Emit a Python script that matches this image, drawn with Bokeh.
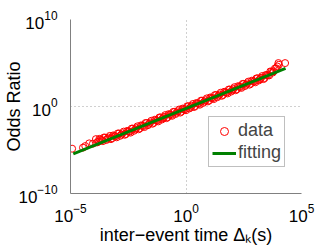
from bokeh.plotting import figure
from bokeh.models import FixedTicker, Legend, LegendItem
from bokeh.embed import file_html
from bokeh.resources import INLINE

# exponents (log10)
log_dt = [-4.93, -4.46, -4.36, -4.19, -4.03,
          -3.9, -3.8, -3.7, -3.6, -3.5, -3.4, -3.3, -3.2, -3.1, -3.0,
          -2.9, -2.8, -2.7, -2.6, -2.5, -2.4, -2.3, -2.2, -2.1, -2.0,
          -1.9, -1.8, -1.7, -1.6, -1.5, -1.4, -1.3, -1.2, -1.1, -1.0,
          -0.9, -0.8, -0.7, -0.6, -0.5, -0.4, -0.3, -0.2, -0.1, 0.0,
          0.1, 0.2, 0.3, 0.4, 0.5, 0.6, 0.7, 0.8, 0.9, 1.0,
          1.1, 1.2, 1.3, 1.4, 1.5, 1.6, 1.7, 1.8, 1.9, 2.0,
          2.1, 2.2, 2.3, 2.4, 2.5, 2.6, 2.7, 2.8, 2.9, 3.0,
          3.1, 3.2, 3.3, 3.4, 3.5, 3.6, 3.7, 3.8, 3.9, 3.95,
          4.0, 4.02, 4.29]
log_odds = [-4.85, -4.73, -4.55, -4.24, -4.27,
            -3.75, -4.05, -3.79, -3.98, -3.58, -3.72, -3.38, -3.65, -3.38, -3.54,
            -3.10, -3.23, -2.89, -3.16, -2.86, -3.00, -2.54, -2.63, -2.28, -2.52,
            -2.21, -2.36, -1.90, -1.99, -1.64, -1.88, -1.57, -1.71, -1.26, -1.35,
            -0.99, -1.24, -0.93, -1.07, -0.62, -0.71, -0.35, -0.59, -0.29, -0.43,
            0.03, -0.07, 0.29, 0.05, 0.36, 0.21, 0.67, 0.58, 0.93, 0.69,
            1.00, 0.85, 1.31, 1.22, 1.58, 1.33, 1.64, 1.50, 1.95, 1.86,
            2.22, 1.97, 2.28, 2.14, 2.60, 2.50, 2.86, 2.62, 2.92, 2.78,
            3.24, 3.14, 3.50, 3.26, 3.62, 3.57, 4.00, 4.05, 4.40, 4.60,
            4.99, 4.80, 4.99]
log_dt_b = [-3.85, -3.75, -3.65, -3.55, -3.45, -3.35, -3.25, -3.15, -3.05, -2.95,
            -2.85, -2.75, -2.65, -2.55, -2.45, -2.35, -2.25, -2.15, -2.05, -1.95,
            -1.85, -1.75, -1.65, -1.55, -1.45, -1.35, -1.25, -1.15, -1.05, -0.95,
            -0.85, -0.75, -0.65, -0.55, -0.45, -0.35, -0.25, -0.15, -0.05,
            0.05, 0.15, 0.25, 0.35, 0.45, 0.55, 0.65, 0.75, 0.85, 0.95,
            1.05, 1.15, 1.25, 1.35, 1.45, 1.55, 1.65, 1.75, 1.85, 1.95,
            2.05, 2.15, 2.25, 2.35, 2.45, 2.55, 2.65, 2.75, 2.85, 2.95,
            3.05, 3.15, 3.25, 3.35, 3.45, 3.55, 3.65, 3.75, 3.85]
log_odds_b = [-4.13, -3.72, -3.87, -3.56, -3.85, -3.57, -3.75, -3.32, -3.43, -3.10,
              -3.37, -3.08, -3.25, -2.81, -2.90, -2.54, -2.79, -2.48, -2.62, -2.17,
              -2.26, -1.90, -2.15, -1.84, -1.98, -1.52, -1.62, -1.26, -1.50, -1.20,
              -1.34, -0.88, -0.98, -0.62, -0.86, -0.55, -0.70, -0.24, -0.33,
              0.02, -0.22, 0.09, -0.06, 0.40, 0.31, 0.67, 0.42, 0.73, 0.59,
              1.04, 0.95, 1.31, 1.06, 1.37, 1.23, 1.69, 1.59, 1.95, 1.71,
              2.01, 1.87, 2.33, 2.23, 2.59, 2.35, 2.66, 2.51, 2.97, 2.88,
              3.23, 2.99, 3.30, 3.15, 3.61, 3.59, 4.03, 3.90, 4.36]
fit_log_dt = [-4.88, 4.31]
fit_log_odds = [-5.45, 4.37]

x_ticks = [1e-5, 1e0, 1e5]
y_ticks = [1e-10, 1e0, 1e10]
x_label = "inter\u2212event time \u0394\u2096(s)"
y_label = "Odds Ratio"
legend_labels = ["data", "fitting"]

dt = [10 ** v for v in log_dt + log_dt_b]
odds = [10 ** v for v in log_odds + log_odds_b]
fit_dt = [10 ** v for v in fit_log_dt]
fit_odds = [10 ** v for v in fit_log_odds]

FONT = "Liberation Sans"

p = figure(frame_width=231, frame_height=174, x_axis_type="log", y_axis_type="log",
           x_range=(1e-5, 1e5), y_range=(1e-10, 1e10),
           output_backend="svg", toolbar_location=None,
           min_border_left=70, min_border_right=30, min_border_top=19,
           min_border_bottom=56)
p.outline_line_color = None
p.background_fill_color = "white"

r_data = p.scatter(dt, odds, marker="circle", size=7, fill_color=None,
                   line_color="#ff0000", line_width=1)
r_fit = p.line(fit_dt, fit_odds, line_color="#008000", line_width=3)

for ax, ticks in ((p.xaxis[0], x_ticks), (p.yaxis[0], y_ticks)):
    ax.ticker = FixedTicker(ticks=ticks, minor_ticks=[])
    ax.axis_line_color = "#808080"
    ax.major_tick_line_color = None
    ax.minor_tick_line_color = None
    ax.major_label_text_font = FONT
    ax.major_label_text_font_size = "17px"
    ax.major_label_text_color = "black"
    ax.axis_label_text_font = FONT
    ax.axis_label_text_font_size = "18px"
    ax.axis_label_text_font_style = "normal"
    ax.axis_label_text_color = "black"

p.xaxis.axis_label = x_label
p.yaxis.axis_label = y_label
p.xaxis.major_label_standoff = 4
p.yaxis.major_label_standoff = 7
p.xaxis.axis_label_standoff = 0
p.yaxis.axis_label_standoff = -9

for g in (p.xgrid[0], p.ygrid[0]):
    g.grid_line_color = "#a0a0a0"
    g.grid_line_dash = "1 3"
    g.grid_line_width = 1
p.xgrid[0].ticker = FixedTicker(ticks=x_ticks)
p.ygrid[0].ticker = FixedTicker(ticks=y_ticks)

legend = Legend(items=[LegendItem(label=legend_labels[0], renderers=[r_data]),
                       LegendItem(label=legend_labels[1], renderers=[r_fit])],
                location=(138, 26))
legend.label_text_font = FONT
legend.label_text_font_size = "18px"
legend.border_line_color = "#808080"
legend.border_line_width = 1
legend.background_fill_alpha = 1
legend.padding = 3
legend.spacing = 1
legend.margin = 0
legend.glyph_width = 24
legend.glyph_height = 20
legend.label_height = 20
legend.label_standoff = 2
p.add_layout(legend, "center")

open("out.html", "w").write(file_html(p, INLINE))
